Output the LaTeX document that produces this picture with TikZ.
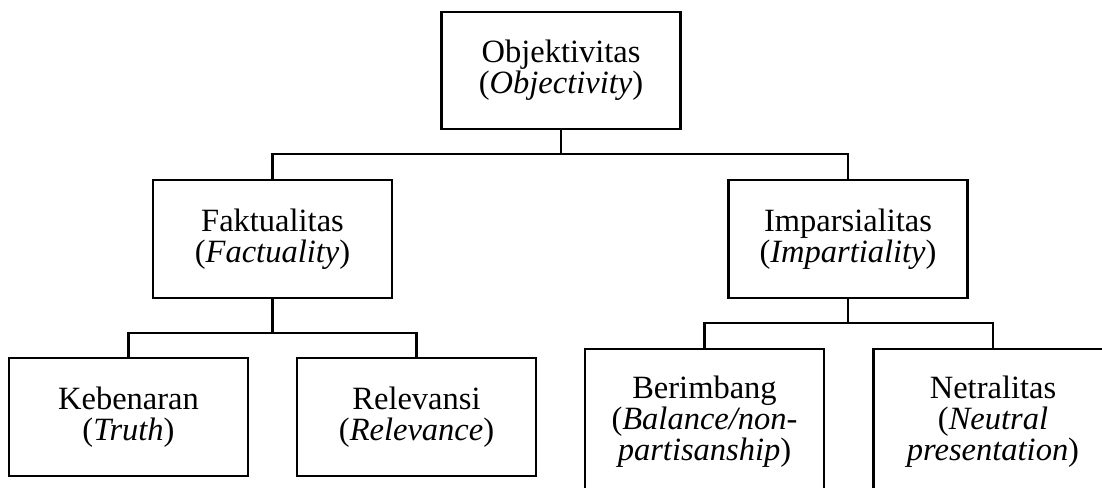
\documentclass[tikz,border=0pt]{standalone}
\usepackage{fontspec}
\setmainfont{Liberation Serif}
\begin{document}
\begin{tikzpicture}[x=1pt,y=-1pt,
  box/.style={draw=black, line width=2.6pt, rectangle, align=center,
    minimum width=239pt, inner sep=0pt,
    font=\fontsize{32.5}{31}\selectfont},
  link/.style={draw=black, line width=2.6pt}]
\useasboundingbox (0,0) rectangle (1102,487);
\clip (0,0) rectangle (1102,487);
\node[box, minimum height=117pt] (obj) at (561,70.5) {Objektivitas\\(\textit{Objectivity})};
\node[box, minimum height=118pt] (fak) at (272.5,239) {Faktualitas\\(\textit{Factuality})};
\node[box, minimum height=118pt] (imp) at (848,239) {Imparsialitas\\(\textit{Impartiality})};
\node[box, minimum height=118pt] (keb) at (128.5,417) {Kebenaran\\(\textit{Truth})};
\node[box, minimum height=118pt] (rel) at (416.5,417) {Relevansi\\(\textit{Relevance})};
\node[box, minimum height=146pt] (ber) at (704.5,422) {Berimbang\\(\textit{Balance/non-}\\\textit{partisanship})};
\node[box, minimum height=146pt] (net) at (993,422) {Netralitas\\(\textit{Neutral}\\\textit{presentation})};
\coordinate (j1) at (561,154);
\coordinate (j2) at (272.5,333);
\coordinate (j3) at (848,323);
\draw[link] (obj.south) -- (j1);
\draw[link] (fak.north) |- (j1) -| (imp.north);
\draw[link] (fak.south) -- (j2);
\draw[link] (keb.north) |- (j2) -| (rel.north);
\draw[link] (imp.south) -- (j3);
\draw[link] (ber.north) |- (j3) -| (net.north);
\end{tikzpicture}
\end{document}
